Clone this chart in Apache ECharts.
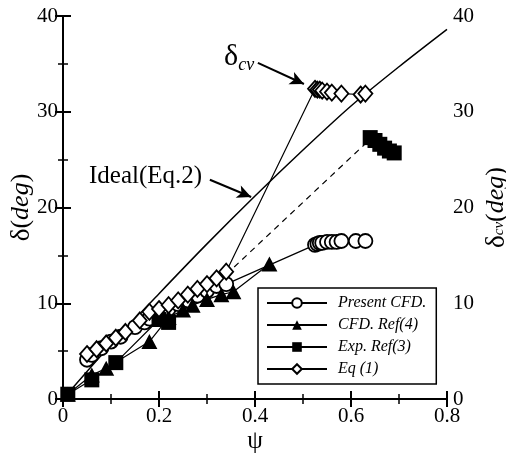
<!DOCTYPE html>
<html><head><meta charset="utf-8">
<script src="https://cdn.jsdelivr.net/npm/echarts@6/dist/echarts.min.js"></script>
<style>html,body{margin:0;padding:0;background:#fff}#c{width:506px;height:456px}</style>
</head><body><div id="c"></div>
<script>
// ---- data ----
const xTicks = [0, 0.2, 0.4, 0.6, 0.8];
const yTicks = [0, 10, 20, 30, 40];

const idealX = [0, 0.1, 0.2, 0.3, 0.4, 0.5, 0.6, 0.7, 0.8];
const idealY = [0, 5.7, 11.0, 16.2, 21.2, 26.0, 30.6, 34.7, 38.6];

const presentX = [0.05, 0.06, 0.08, 0.10, 0.12, 0.15, 0.17, 0.18, 0.20, 0.22, 0.24, 0.26, 0.28, 0.30, 0.32, 0.34, 0.525, 0.53, 0.535, 0.54, 0.55, 0.56, 0.57, 0.58, 0.61, 0.63];
const presentY = [4.1, 4.6, 5.3, 6.0, 6.5, 7.5, 8.0, 8.4, 8.8, 9.4, 9.9, 10.3, 10.8, 11.3, 11.8, 12.0, 16.1, 16.2, 16.3, 16.3, 16.4, 16.4, 16.4, 16.5, 16.5, 16.5];

const cfdRefX = [0.01, 0.06, 0.09, 0.18, 0.22, 0.25, 0.27, 0.30, 0.33, 0.355, 0.43];
const cfdRefY = [0.5, 2.5, 3.2, 6.0, 8.5, 9.3, 9.8, 10.4, 10.9, 11.2, 14.1];

const expRefX = [0.01, 0.06, 0.11, 0.20, 0.22, 0.64, 0.65, 0.66, 0.67, 0.68, 0.69];
const expRefY = [0.5, 2.0, 3.8, 8.3, 8.0, 27.3, 27.0, 26.6, 26.2, 25.9, 25.7];

const expDashX = [0.34, 0.635];
const expDashY = [13.0, 26.9];

const eq1X = [0.05, 0.07, 0.09, 0.11, 0.13, 0.16, 0.18, 0.20, 0.22, 0.24, 0.26, 0.28, 0.30, 0.32, 0.34, 0.525, 0.53, 0.535, 0.54, 0.55, 0.56, 0.58, 0.62, 0.63];
const eq1Y = [4.7, 5.2, 5.8, 6.4, 7.0, 8.2, 9.1, 9.4, 9.8, 10.3, 10.9, 11.5, 12.0, 12.6, 13.3, 32.4, 32.3, 32.3, 32.2, 32.1, 32.0, 31.9, 31.8, 31.9];

const legendNames = ['Present CFD.', 'CFD. Ref(4)', 'Exp. Ref(3)', 'Eq (1)'];

// ---- chart ----
const zip = (xs, ys) => xs.map((x, i) => [x, ys[i]]);
const serif = 'Liberation Serif';
const chart = echarts.init(document.getElementById('c'));

const axisCommon = {
  min: 0,
  nameMoveOverlap: false,
  axisLine: { show: true, lineStyle: { color: '#000', width: 2 } },
  axisTick: { show: true, inside: true, length: 8, lineStyle: { color: '#000', width: 2 } },
  minorTick: { show: true, splitNumber: 2, length: 5, lineStyle: { color: '#000', width: 1.5 } },
  splitLine: { show: false },
  axisLabel: { color: '#000', fontFamily: serif, fontSize: 21 }
};

chart.setOption({
  animation: false,
  backgroundColor: '#fff',
  grid: { left: 63, right: 59, top: 16, bottom: 57, containLabel: false, outerBoundsMode: 'none' },
  xAxis: [
    Object.assign({}, axisCommon, {
      type: 'value', position: 'bottom', max: xTicks[xTicks.length - 1], interval: xTicks[1] - xTicks[0],
      axisLabel: Object.assign({}, axisCommon.axisLabel, { margin: 7 }),
      name: 'ψ', nameLocation: 'middle', nameGap: 30,
      nameTextStyle: { color: '#000', fontFamily: serif, fontSize: 25 }
    }),
    Object.assign({}, axisCommon, {
      type: 'value', position: 'top', max: xTicks[xTicks.length - 1], interval: xTicks[1] - xTicks[0],
      axisLabel: { show: false }
    })
  ],
  yAxis: [
    Object.assign({}, axisCommon, {
      type: 'value', position: 'left', max: yTicks[yTicks.length - 1], interval: yTicks[1] - yTicks[0],
      axisLabel: Object.assign({}, axisCommon.axisLabel, { margin: 5 }),
      name: '{a|δ}{b|(}{c|deg}{b|)}', nameLocation: 'middle', nameGap: 28, nameRotate: 90,
      nameTextStyle: {
        rich: {
          a: { fontFamily: serif, fontSize: 27, color: '#000' },
          b: { fontFamily: serif, fontSize: 26, color: '#000' },
          c: { fontFamily: serif, fontSize: 26, fontStyle: 'italic', color: '#000' }
        }
      }
    }),
    Object.assign({}, axisCommon, {
      type: 'value', position: 'right', max: yTicks[yTicks.length - 1], interval: yTicks[1] - yTicks[0],
      axisLabel: Object.assign({}, axisCommon.axisLabel, { margin: 6 }),
      name: '{a|δ}{s|cv}{b|(}{c|deg}{b|)}', nameLocation: 'middle', nameGap: 36, nameRotate: 90,
      nameTextStyle: {
        rich: {
          a: { fontFamily: serif, fontSize: 27, color: '#000', lineHeight: 24, verticalAlign: 'top' },
          s: { fontFamily: serif, fontSize: 15, fontStyle: 'italic', color: '#000', lineHeight: 24, verticalAlign: 'bottom', padding: [8, 0, 0, 0] },
          b: { fontFamily: serif, fontSize: 26, color: '#000', lineHeight: 24, verticalAlign: 'top' },
          c: { fontFamily: serif, fontSize: 26, fontStyle: 'italic', color: '#000', lineHeight: 24, verticalAlign: 'top' }
        }
      }
    })
  ],
  legend: {
    data: legendNames,
    orient: 'vertical',
    left: 258, top: 288,
    padding: [7, 10, 7, 8],
    itemGap: 6,
    itemWidth: 60, itemHeight: 12,
    borderColor: '#000', borderWidth: 1.5, borderRadius: 0,
    backgroundColor: '#fff',
    textStyle: { fontFamily: serif, fontStyle: 'italic', fontSize: 16, color: '#000', padding: [0, 0, 0, 6] }
  },
  series: [
    {
      name: 'Ideal', type: 'line', data: zip(idealX, idealY), symbol: 'none', z: 3,
      lineStyle: { color: '#000', width: 1.5 }, smooth: 0.3,
      markLine: {
        silent: true, symbol: ['none', 'arrow'], symbolSize: [10, 14],
        lineStyle: { color: '#000', width: 2, type: 'solid' },
        label: { show: false },
        data: [
          [{ coord: [0.406, 35.1] }, { coord: [0.502, 32.9] }],
          [{ coord: [0.306, 22.9] }, { coord: [0.392, 21.1] }]
        ]
      }
    },
    {
      name: 'ExpDash', type: 'line', data: zip(expDashX, expDashY), symbol: 'none',
      lineStyle: { color: '#000', width: 1.2, type: [6, 5] }
    },
    {
      name: legendNames[0], type: 'line', data: zip(presentX, presentY),
      symbol: 'circle', symbolSize: 14,
      lineStyle: { color: '#000', width: 1.2 },
      itemStyle: { color: '#fff', borderColor: '#000', borderWidth: 1.8 }
    },
    {
      name: legendNames[1], type: 'line', data: zip(cfdRefX, cfdRefY),
      symbol: 'triangle', symbolSize: [16, 15],
      lineStyle: { color: '#000', width: 1.2 },
      itemStyle: { color: '#000' }
    },
    {
      name: legendNames[2], type: 'line', data: zip(expRefX.slice(0, 5), expRefY.slice(0, 5)).concat([null]).concat(zip(expRefX.slice(5), expRefY.slice(5))),
      symbol: 'rect', symbolSize: 15, connectNulls: false,
      lineStyle: { color: '#000', width: 1.2 },
      itemStyle: { color: '#000' }
    },
    {
      name: legendNames[3], type: 'line', data: zip(eq1X, eq1Y),
      symbol: 'diamond', symbolSize: [14, 16],
      lineStyle: { color: '#000', width: 1.2 },
      itemStyle: { color: '#fff', borderColor: '#000', borderWidth: 1.8 }
    }
  ],
  graphic: [
    {
      type: 'text', left: 224, top: 42,
      style: {
        text: '{a|δ}{s|cv}',
        rich: {
          a: { fontFamily: serif, fontSize: 30, fill: '#000', lineHeight: 32, verticalAlign: 'top' },
          s: { fontFamily: serif, fontSize: 18, fontStyle: 'italic', fill: '#000', lineHeight: 32, verticalAlign: 'bottom', padding: [14, 0, 0, 0] }
        }
      }
    },
    {
      type: 'text', left: 89, top: 164,
      style: { text: 'Ideal(Eq.2)', fontFamily: serif, fontSize: 25, fill: '#000' }
    }
  ]
});
</script></body></html>
